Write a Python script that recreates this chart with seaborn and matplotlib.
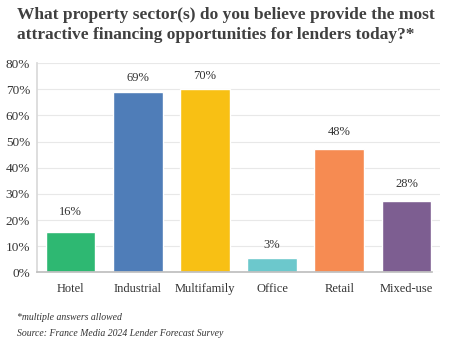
import matplotlib
matplotlib.use("Agg")
import matplotlib.pyplot as plt
import seaborn as sns
import pandas as pd

categories = ["Hotel", "Industrial", "Multifamily", "Office", "Retail", "Mixed-use"]
values = [15.5, 68.9, 70.0, 5.4, 47.2, 27.3]
value_labels = ["16%", "69%", "70%", "3%", "48%", "28%"]
colors = ["#2EB872", "#4F7DB8", "#F8C014", "#6CC8CC", "#F68B52", "#7D5E91"]
yticks = [0, 10, 20, 30, 40, 50, 60, 70, 80]

# vertical gap between bar top and its label (in % units)
label_offsets = [7.7, 5.3, 5.1, 5.0, 6.6, 6.4]

sns.set_theme(style="white")
plt.rcParams["font.family"] = ["Liberation Serif", "DejaVu Serif"]

df = pd.DataFrame({"cat": categories, "val": values})

fig = plt.figure(figsize=(4.6, 3.45), dpi=100)
ax = fig.add_axes([37/460, 1-272.3/345, (440-37)/460, (272.3-63.1)/345])

sns.barplot(data=df, x="cat", y="val", hue="cat", palette=colors, legend=False,
            width=0.74, ax=ax, saturation=1)

ax.set_ylim(0, 80)
ax.set_yticks(yticks)
ax.set_yticklabels([f"{t}%" for t in yticks], fontsize=9.5, color="#333333")
ax.set_xlim(-0.5, 5.5)
ax.tick_params(axis="x", labelsize=9, colors="#333333", length=0, pad=8)
ax.tick_params(axis="y", length=0, pad=5)
ax.set_xlabel("")
ax.set_ylabel("")
ax.yaxis.grid(True, color="#E8E8E8", linewidth=0.8)
ax.set_axisbelow(True)
for s in ["top", "right"]:
    ax.spines[s].set_visible(False)
ax.spines["left"].set_color("#D9D9D9")
ax.spines["bottom"].set_color("#BFBFBF")
ax.spines["bottom"].set_bounds(-0.5, 5.38)

for i, (v, lab, off) in enumerate(zip(values, value_labels, label_offsets)):
    ax.text(i, v + off, lab, ha="center", va="center", fontsize=9, color="#333333")

fig.text(17/460, 1-7/345, "What property sector(s) do you believe provide the most\nattractive financing opportunities for lenders today?*",
         ha="left", va="top", fontsize=12.5, fontweight="bold", color="#404040", linespacing=1.3)

fig.text(17/460, 1-317/345, "*multiple answers allowed", ha="left", va="center",
         fontsize=7, style="italic", color="#333333")
fig.text(17/460, 1-334/345, "Source: France Media 2024 Lender Forecast Survey", ha="left", va="center",
         fontsize=7, style="italic", color="#333333")

fig.savefig("out.png", dpi=100)
